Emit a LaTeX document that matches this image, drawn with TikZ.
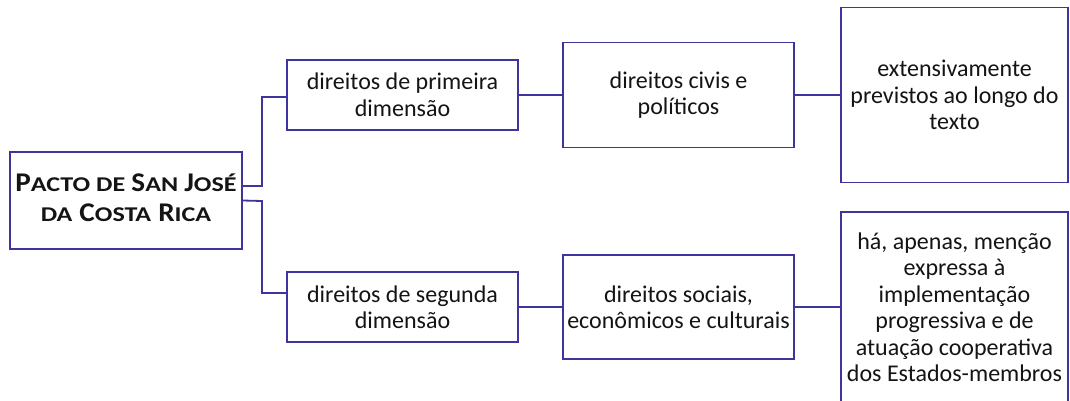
\documentclass[tikz,border=0pt]{standalone}
\usepackage{fontspec}
\setmainfont{Carlito}
\newfontfamily\scwide[FakeStretch=1.24]{Carlito}
\newfontfamily\capwide[FakeStretch=1.08]{Carlito}
\newcommand{\bigc}[1]{{\capwide\fontsize{27}{30}\selectfont #1}}
\newcommand{\smc}[1]{{\scwide\fontsize{21}{30}\selectfont #1}}
\definecolor{edge}{RGB}{62,52,158}
\definecolor{txt}{RGB}{20,20,20}
\begin{document}
\begin{tikzpicture}[x=1pt,y=-1pt,
  box/.style={draw=edge,line width=1.8pt,fill=white,rectangle,inner sep=0pt,align=center,text=txt,
    font=\fontsize{24}{26.5}\selectfont},
  link/.style={draw=edge,line width=1.8pt}]
\useasboundingbox (0,0) rectangle (1070,400);
\node[box,minimum width=232pt,minimum height=97pt] (root) at (126,200.5) {};
\node[align=center,inner sep=0pt,text=txt,font=\fontsize{27}{30}\selectfont\bfseries,yshift=3pt] (rootlabel) at (root.center)
  {\bfseries\bigc{P}\smc{ACTO} \smc{DE} \bigc{S}\smc{AN} \bigc{J}\smc{OSÉ}\\
   \bfseries\smc{DA}\hspace{1pt} \bigc{C}\smc{OSTA}\hspace{1pt} \bigc{R}\smc{ICA}};
\node[box,minimum width=231pt,minimum height=70pt] (a1) at (402.5,95) {direitos de primeira\\dimensão};
\node[box,minimum width=231pt,minimum height=70pt] (a2) at (402.5,307) {direitos de segunda\\dimensão};
\node[box,minimum width=231pt,minimum height=105pt] (b1) at (678.5,95) {direitos civis e\\políticos};
\node[box,minimum width=231pt,minimum height=104pt] (b2) at (678.5,307) {direitos sociais,\\econômicos e culturais};
\node[box,minimum width=227pt,minimum height=175pt] (c1) at (954.5,95) {extensivamente\\previstos ao longo do\\texto};
\node[box,minimum width=227pt,minimum height=190pt] (c2) at (954.5,307) {há, apenas, menção\\expressa à\\implementação\\progressiva e de\\atuação cooperativa\\dos Estados-membros};
\coordinate (j1) at (262,186);
\coordinate (j2) at (262,201);
\draw[link] ([yshift=14.5pt]root.east) -- (j1) |- ([yshift=-2pt]a1.west);
\draw[link] (root.east) -- (j2) |- ([yshift=14pt]a2.west);
\draw[link] (a1.east) -- (b1.west);
\draw[link] (a2.east) -- (b2.west);
\draw[link] (b1.east) -- (c1.west);
\draw[link] (b2.east) -- (c2.west);
\end{tikzpicture}
\end{document}
